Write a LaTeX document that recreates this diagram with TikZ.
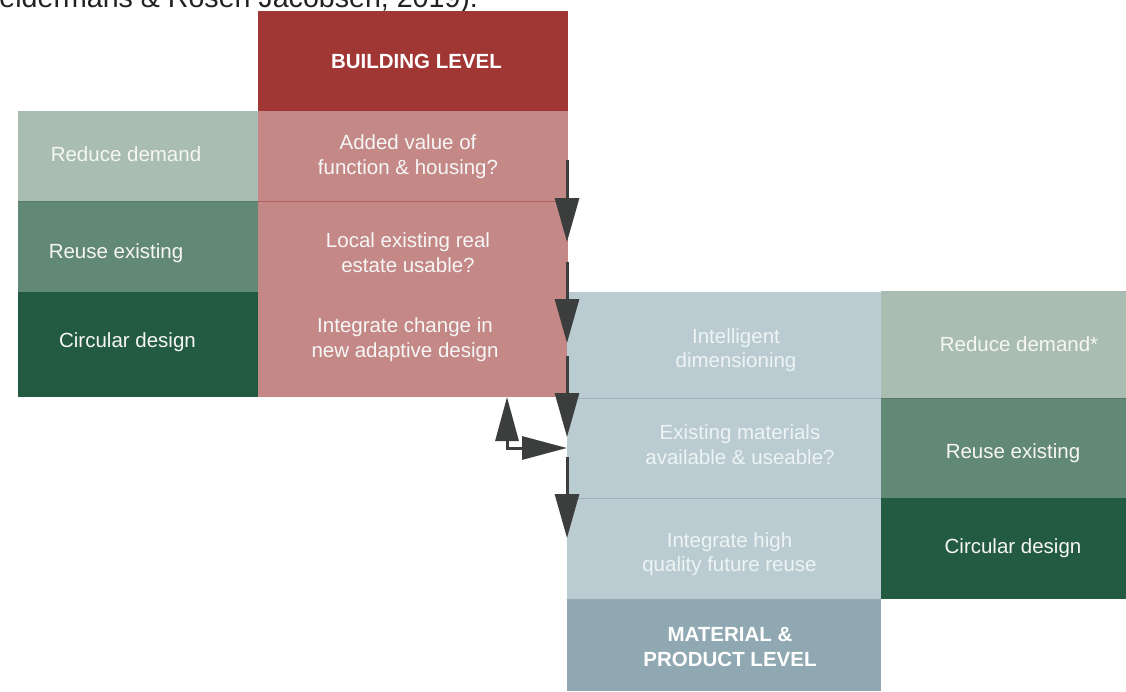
\documentclass[tikz,border=0pt]{standalone}
\usepackage{fontspec}
\setmainfont{Liberation Sans}
\usetikzlibrary{arrows.meta}
\definecolor{hdred}{HTML}{A03734}
\definecolor{rowred}{HTML}{C48886}
\definecolor{sepred}{HTML}{B0615F}
\definecolor{gLight}{HTML}{A9BDB3}
\definecolor{gMid}{HTML}{628876}
\definecolor{gDark}{HTML}{235B42}
\definecolor{sepgreen}{HTML}{55796A}
\definecolor{rowblue}{HTML}{BACCD1}
\definecolor{hdblue}{HTML}{8FA8B1}
\definecolor{sepblue}{HTML}{9BB3BD}
\definecolor{arrowc}{HTML}{3B3E3D}
\definecolor{captc}{HTML}{222222}
\definecolor{txtw}{HTML}{F6F6F6}
\definecolor{txtb}{HTML}{EEF3F4}
\begin{document}
\begin{tikzpicture}[x=1pt,y=-1pt,
  cell/.style={rectangle, inner sep=0pt, outer sep=0pt, draw=none, anchor=north west},
  lbl/.style={anchor=base, inner sep=0pt, text=txtw, font=\fontsize{20.5}{24.6}\selectfont},
  lblb/.style={lbl, text=txtb},
  hdr/.style={lbl, text=white, font=\fontsize{20.5}{24.6}\selectfont\bfseries},
  flowarrow/.style={line width=3pt, draw=arrowc, -{Triangle[length=44pt,width=24pt]}},
  biarrow/.style={line width=3pt, draw=arrowc, {Triangle[length=44pt,width=23pt]}-{Triangle[length=45pt,width=23pt]}}
]
\useasboundingbox (0,0) rectangle (1126,691);
\clip (0,0) rectangle (1126,691);
\fill[white] (0,0) rectangle (1126,691);

% caption fragment
\node[anchor=base west, inner sep=0pt, text=captc, font=\fontsize{28.6}{34}\selectfont] (cap) at (-23,7) {Geldermans \& Rosen Jacobsen, 2019).};

% building level column
\node[cell, fill=hdred, minimum width=310pt, minimum height=100pt] (bhd) at (258,11) {};
\node[cell, fill=rowred, minimum width=310pt, minimum height=90pt] (b1) at (258,111) {};
\node[cell, fill=rowred, minimum width=310pt, minimum height=91pt] (b2) at (258,201) {};
\node[cell, fill=rowred, minimum width=310pt, minimum height=105pt] (b3) at (258,292) {};
\draw[sepred, line width=1pt] (b1.south west) -- (b1.south east);

% left strategy column
\node[cell, fill=gLight, minimum width=240pt, minimum height=90pt] (l1) at (18,111) {};
\node[cell, fill=gMid, minimum width=240pt, minimum height=91pt] (l2) at (18,201) {};
\node[cell, fill=gDark, minimum width=240pt, minimum height=105pt] (l3) at (18,292) {};
\draw[sepgreen, line width=1pt] (l1.south west) -- (l1.south east);

% material column
\node[cell, fill=rowblue, minimum width=314pt, minimum height=106pt] (m1) at (567,292) {};
\node[cell, fill=rowblue, minimum width=314pt, minimum height=100pt] (m2) at (567,398) {};
\node[cell, fill=rowblue, minimum width=314pt, minimum height=101pt] (m3) at (567,498) {};
\node[cell, fill=hdblue, minimum width=314pt, minimum height=92pt] (mhd) at (567,599) {};
\draw[sepblue, line width=1pt] (m1.south west) -- (m1.south east);
\draw[sepblue, line width=1pt] (m2.south west) -- (m2.south east);

% right strategy column
\node[cell, fill=gLight, minimum width=245pt, minimum height=107pt] (r1) at (881,291) {};
\node[cell, fill=gMid, minimum width=245pt, minimum height=100pt] (r2) at (881,398) {};
\node[cell, fill=gDark, minimum width=245pt, minimum height=101pt] (r3) at (881,498) {};
\draw[sepgreen, line width=1pt] (r1.south west) -- (r1.south east);

% texts
\node[hdr] (tbh) at (416.5,68) {BUILDING LEVEL};
\node[lbl] (tb1a) at (408,149) {Added value of};
\node[lbl] (tb1b) at (408,174) {function \& housing?};
\node[lbl] (tb2a) at (408,247) {Local existing real};
\node[lbl] (tb2b) at (408,272) {estate usable?};
\node[lbl] (tb3a) at (405,332) {Integrate change in};
\node[lbl] (tb3b) at (405,357) {new adaptive design};

\node[lbl] (tl1) at (126,161) {Reduce demand};
\node[lbl] (tl2) at (116,258) {Reuse existing};
\node[lbl] (tl3) at (127.5,347) {Circular design};

\node[lblb] (tm1a) at (736,343) {Intelligent};
\node[lblb] (tm1b) at (736,367) {dimensioning};
\node[lblb] (tm2a) at (740,439) {Existing materials};
\node[lblb] (tm2b) at (740,464) {available \& useable?};
\node[lblb] (tm3a) at (729.5,547) {Integrate high};
\node[lblb] (tm3b) at (729.5,571) {quality future reuse};
\node[hdr] (tmha) at (730,641) {MATERIAL \&};
\node[hdr] (tmhb) at (730,666) {PRODUCT LEVEL};

\node[lbl] (tr1) at (1019,351) {Reduce demand*};
\node[lbl] (tr2) at (1013,458) {Reuse existing};
\node[lbl] (tr3) at (1013,553) {Circular design};

% arrows
\coordinate (a1s) at (567,160); \coordinate (a1e) at (567,242);
\coordinate (a2s) at (567,262); \coordinate (a2e) at (567,343);
\coordinate (a3s) at (567,356); \coordinate (a3e) at (567,437);
\coordinate (a4s) at (567,457); \coordinate (a4e) at (567,538);
\coordinate (e1) at (507,397); \coordinate (e2) at (567,448);
\draw[flowarrow] (a1s) -- (a1e);
\draw[flowarrow] (a2s) -- (a2e);
\draw[flowarrow] (a3s) -- (a3e);
\draw[flowarrow] (a4s) -- (a4e);
\draw[biarrow] (e1) |- (e2);
\end{tikzpicture}
\end{document}
